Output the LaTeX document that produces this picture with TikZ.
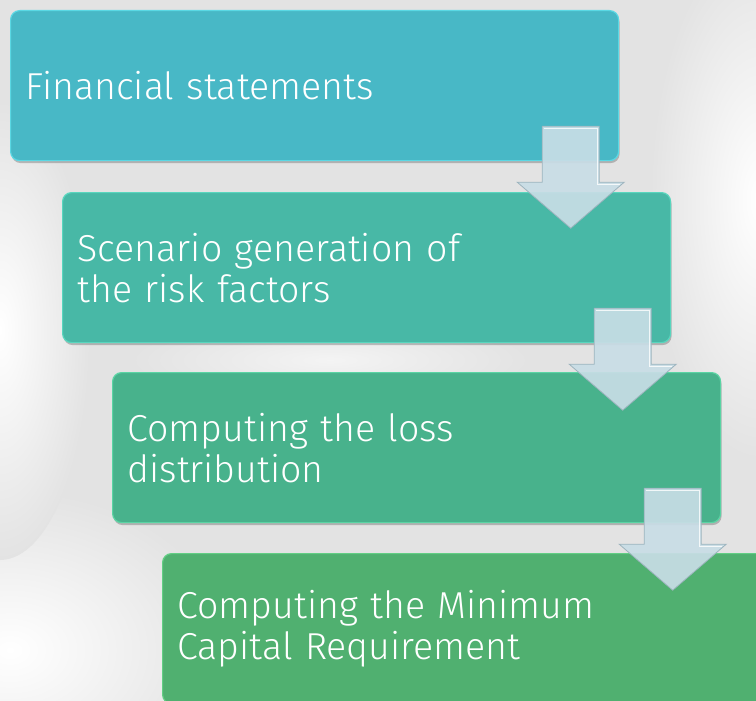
\documentclass[tikz,border=0pt]{standalone}
\usepackage{fontspec}
\setmainfont{Fira Sans Light}
\usetikzlibrary{shadows}
\definecolor{bgc}{HTML}{E3E3E3}
\definecolor{cA}{HTML}{48B8C6}\definecolor{cAl}{HTML}{5AD8E4}
\definecolor{cB}{HTML}{48B8A6}\definecolor{cBl}{HTML}{58D6BE}
\definecolor{cC}{HTML}{48B28C}\definecolor{cCl}{HTML}{5AD4A4}
\definecolor{cD}{HTML}{50B070}\definecolor{cDl}{HTML}{62CE84}
\definecolor{arrf}{HTML}{C8DDE6}\definecolor{arrd}{HTML}{9DB4BE}
\tikzset{
  stepbox/.style={rectangle, rounded corners=9pt, minimum width=608pt, minimum height=150pt,
    text width=578pt, align=left, inner sep=0pt, text=white, anchor=north west,
    font=\fontsize{37.5}{41}\selectfont, line width=1.2pt,
    drop shadow={shadow xshift=1pt, shadow yshift=-2.5pt, fill=black, opacity=.22}},
  arrowstyle/.style={fill=arrf, draw=arrd, line width=0.8pt, fill opacity=0.92, line join=miter},
  pics/dnarrow/.style={code={
    \path[arrowstyle] (-28.5,0) -- (28.5,0) -- (28.5,56) -- (53.5,56) -- (0,102)
      -- (-53.5,56) -- (-28.5,56) -- cycle;
    \draw[white, line width=0.6pt, opacity=.8] (-26.5,2) -- (26.5,2) -- (26.5,58) -- (49,58);
  }}
}
\begin{document}
\begin{tikzpicture}[x=1pt, y=-1pt]
  \useasboundingbox (0,0) rectangle (756,701);
  \clip (0,0) rectangle (756,701);
  % background
  \fill[bgc] (0,0) rectangle (756,701);
  \shade[inner color=white, outer color=bgc] (10,650) ellipse [x radius=220, y radius=160];
  \shade[inner color=white, outer color=bgc] (0,330) ellipse [x radius=90, y radius=230];
  \shade[inner color=white, outer color=bgc] (760,200) ellipse [x radius=110, y radius=260];
  \shade[inner color=white!60!bgc, outer color=bgc] (330,360) ellipse [x radius=200, y radius=40];
  % boxes
  \node[stepbox, fill=cA, draw=cAl] (b1) at (10,10) {Financial statements};
  \node[stepbox, fill=cB, draw=cBl] (b2) at (62,192) {Scenario generation of\\the risk factors};
  \node[stepbox, fill=cC, draw=cCl] (b3) at (112,372) {Computing the loss\\distribution};
  \node[stepbox, fill=cD, draw=cDl] (b4) at (162,553) {Computing the Minimum\\Capital Requirement};
  % arrows
  \pic at ([xshift=-48.5pt, yshift=35pt]b1.south east) {dnarrow};
  \pic at ([xshift=-48.5pt, yshift=35pt]b2.south east) {dnarrow};
  \pic at ([xshift=-48.5pt, yshift=35pt]b3.south east) {dnarrow};
\end{tikzpicture}
\end{document}
